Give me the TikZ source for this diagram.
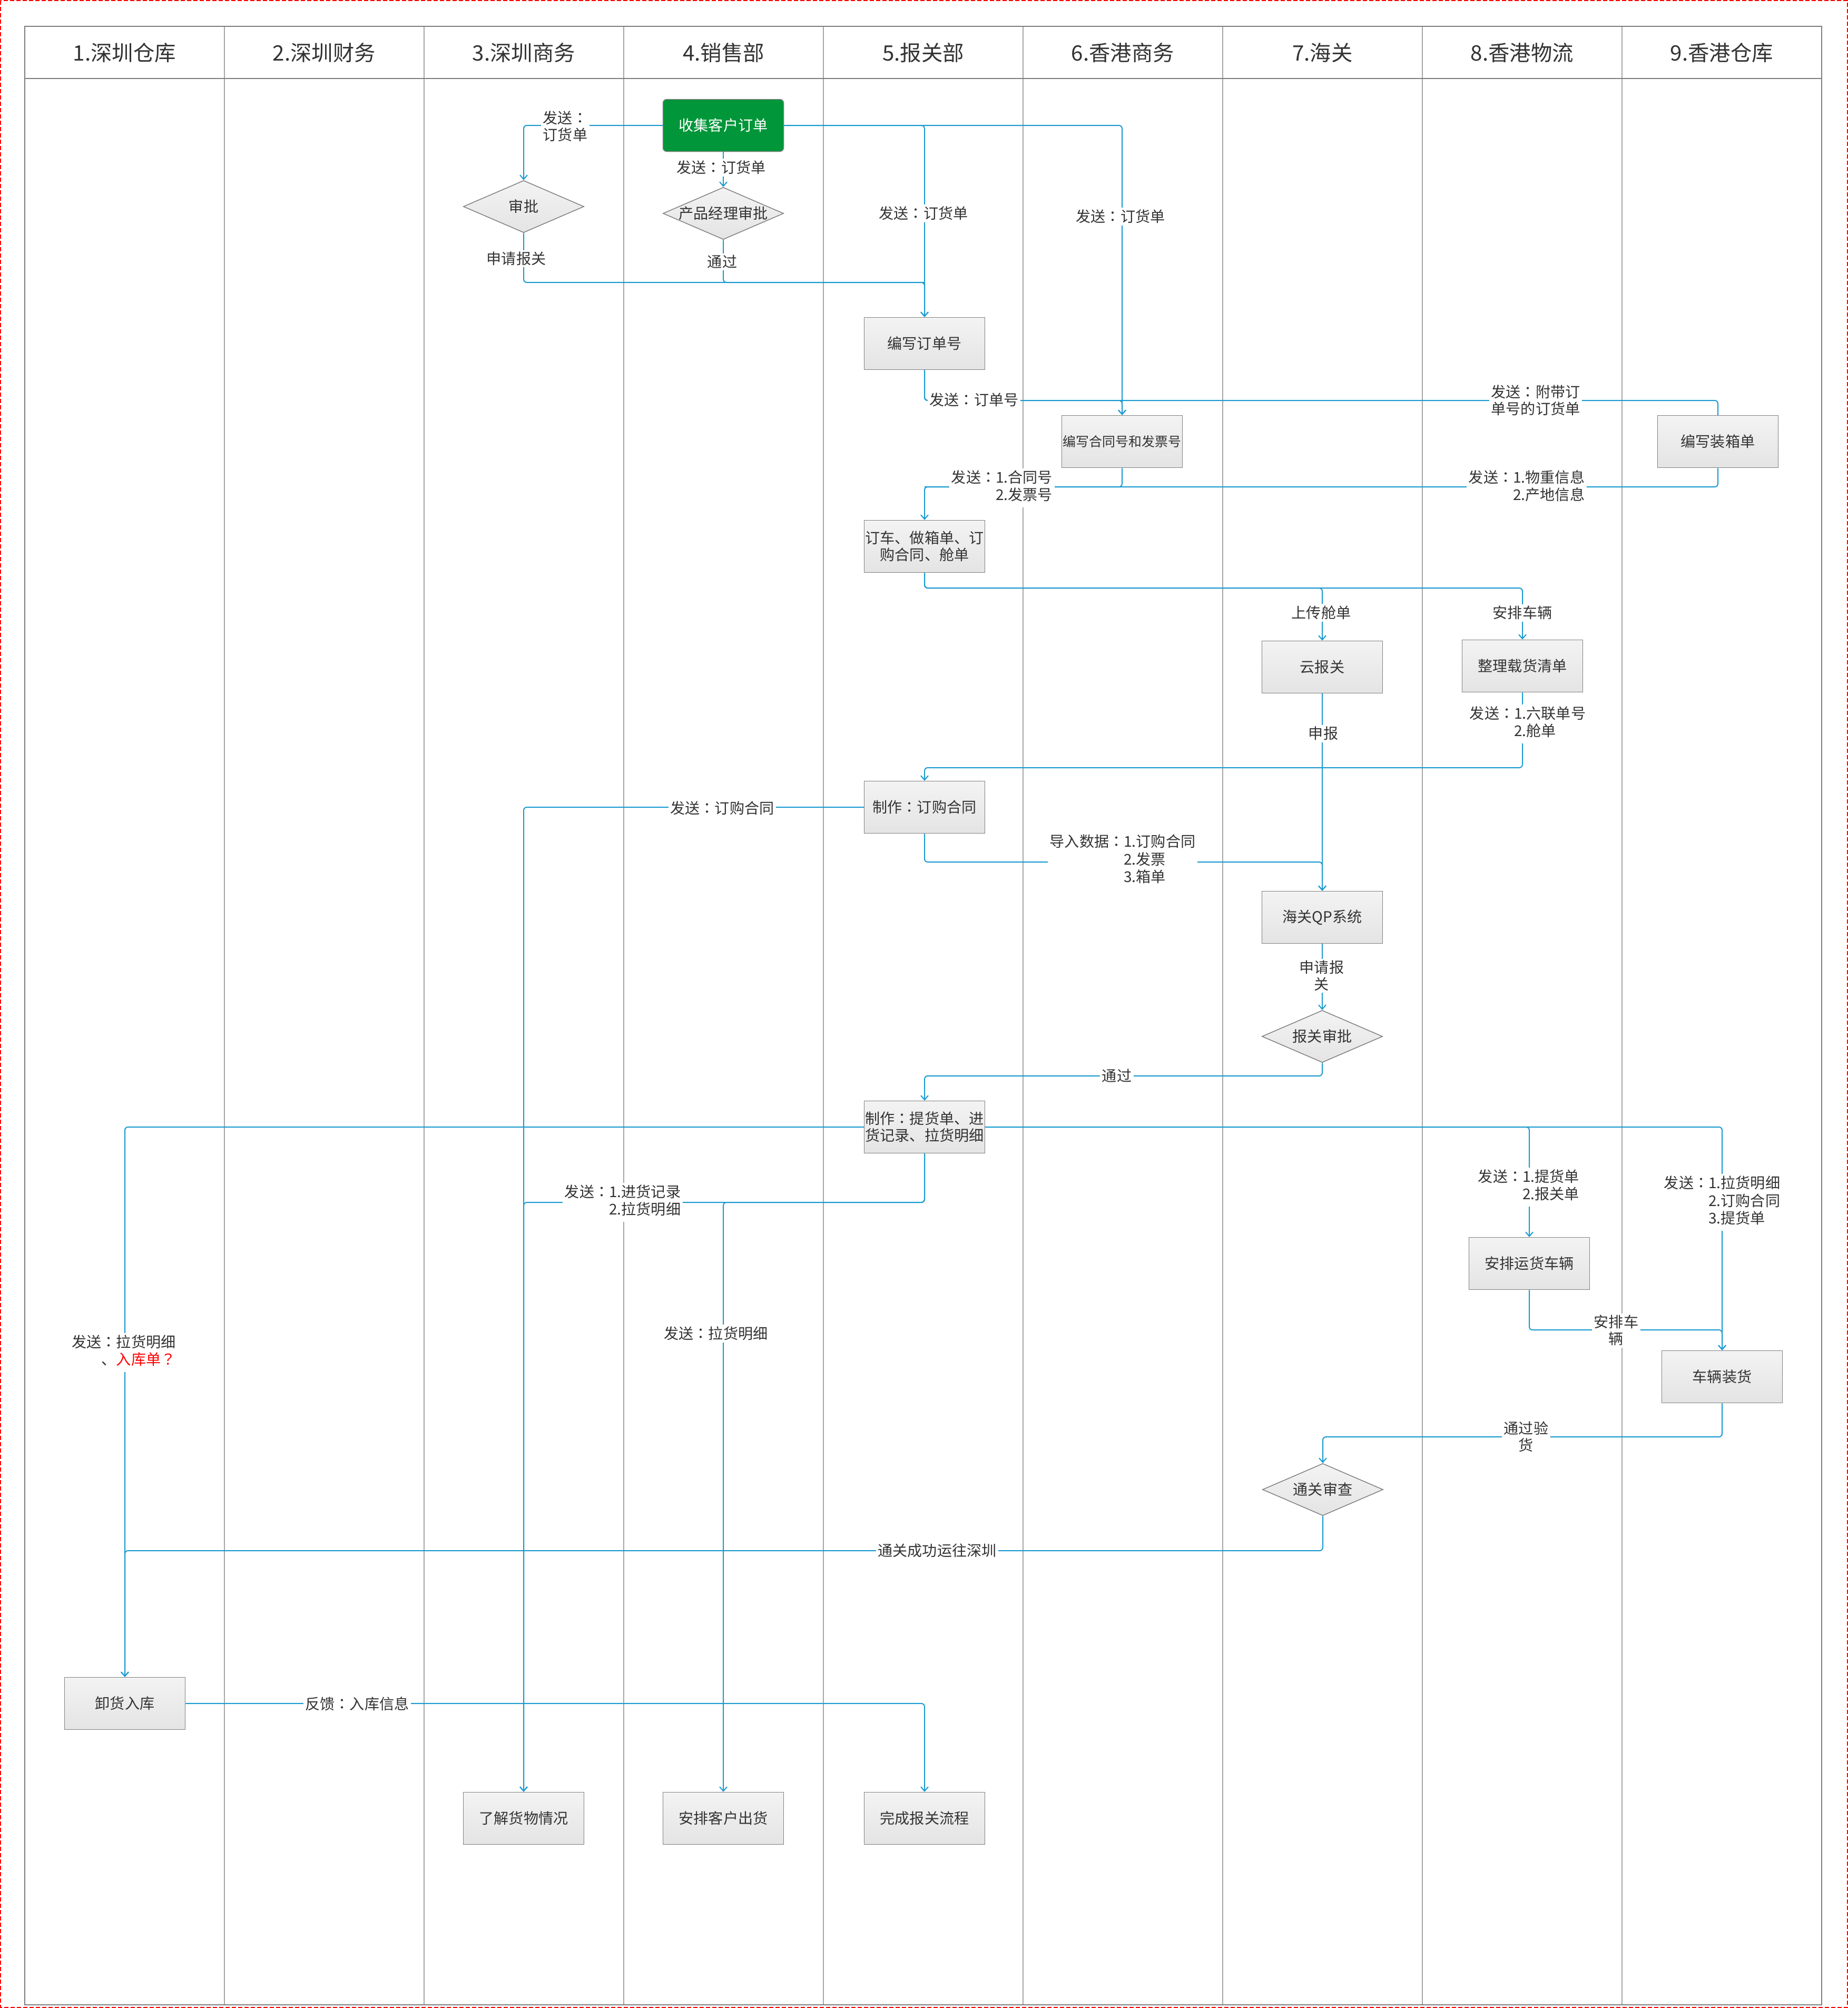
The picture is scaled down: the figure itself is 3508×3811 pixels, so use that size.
\documentclass[tikz,border=0pt]{standalone}
\usepackage{fontspec}
\setmainfont{Noto Sans CJK SC}
\newfontfamily\jpfont{Noto Sans CJK JP}
\usetikzlibrary{arrows.meta,shapes.geometric}

\definecolor{flowline}{RGB}{26,154,208}
\definecolor{laneline}{RGB}{165,165,165}
\definecolor{frameline}{RGB}{125,125,125}
\definecolor{boxtop}{RGB}{243,243,243}
\definecolor{boxbot}{RGB}{228,228,228}
\definecolor{boxdraw}{RGB}{128,128,128}
\definecolor{textgray}{RGB}{51,51,51}
\definecolor{startgreen}{RGB}{0,150,57}

\newcommand{\zerowd}[1]{\makebox[0pt]{#1}}
% centred full-width colon
\newcommand{\fc}{{\jpfont ：}}

\begin{document}
\begin{tikzpicture}[
  x=0.1mm, y=-0.1mm,
  >={Straight Barb[length=0.8mm,width=1.4mm]},
  font=\fontsize{8pt}{9.1pt}\selectfont,
  text=textgray,
  basebox/.style={draw=boxdraw,line width=0.15mm,minimum width=22.9mm,minimum height=9.9mm,inner sep=0pt,align=center},
  procbox/.style={basebox,top color=boxtop,bottom color=boxbot},
  startbox/.style={basebox,fill=startgreen,rounded corners=0.7mm,text=white},
  decision/.style={basebox,diamond,aspect=2.3,top color=boxtop,bottom color=boxbot},
  lanehead/.style={font=\fontsize{11.5pt}{13pt}\selectfont},
  lbl/.style={fill=white,inner sep=1pt,align=left},
  wire/.style={draw=flowline,line width=0.2mm,rounded corners=0.6mm},
  flow/.style={wire,->}
]
\useasboundingbox (0,0) rectangle (3508,3811);
\draw[red,line width=0.2mm,dash pattern=on 0.8mm off 0.4mm] (1,1) rectangle (3507,3810);

% swimlanes
\foreach \k in {1,...,8}
  \draw[laneline,line width=0.15mm] ({47+379*\k},50) -- ({47+379*\k},3805);
\draw[frameline,line width=0.25mm] (47,50) rectangle (3458,3805);
\draw[frameline,line width=0.25mm] (47,149) -- (3458,149);
\foreach \i/\name in {1/1.深圳仓库,2/2.深圳财务,3/3.深圳商务,4/4.销售部,5/5.报关部,
                      6/6.香港商务,7/7.海关,8/8.香港物流,9/9.香港仓库}
  \node[lanehead] (head\i) at ({47+379*(\i-0.5)},100) {\name};

% steps
\node[startbox] (sjdd) at (1373,238) {收集客户订单};
\node[decision] (spA) at (994,392) {\zerowd{审批}};
\node[decision] (cpsp) at (1373,405) {\zerowd{产品经理审批}};
\node[procbox] (bxddh) at (1755,652) {编写订单号};
\node[procbox,font=\fontsize{7.1pt}{8.5pt}\selectfont] (bxht) at (2130,838) {编写合同号和发票号};
\node[procbox] (bxzx) at (3261,838) {编写装箱单};
\node[procbox] (dc) at (1755,1037) {订车、做箱单、订\\购合同、舱单};
\node[procbox] (ybg) at (2510,1266) {云报关};
\node[procbox] (zlzh) at (2890,1264) {整理载货清单};
\node[procbox] (zzdg) at (1755,1532) {制作\fc 订购合同};
\node[procbox] (qp) at (2510,1741) {海关QP系统};
\node[decision] (bgsp) at (2510,1967) {\zerowd{报关审批}};
\node[procbox] (zzth) at (1755,2139) {制作\fc 提货单、进\\货记录、拉货明细};
\node[procbox] (apyh) at (2903,2398) {安排运货车辆};
\node[procbox] (clzh) at (3269,2613) {车辆装货};
\node[decision] (tgsc) at (2511,2827) {\zerowd{通关审查}};
\node[procbox] (xhrk) at (237,3233) {卸货入库};
\node[procbox] (ljhw) at (994,3451) {了解货物情况};
\node[procbox] (apch) at (1373,3451) {安排客户出货};
\node[procbox] (wcbg) at (1755,3451) {完成报关流程};

% bend points of shared runs
\coordinate (busA) at (1755,536);
\coordinate (busB) at (1755,760);
\coordinate (busC) at (1755,924);
\coordinate (busD) at (1755,1116);
\coordinate (busE) at (1755,1457);
\coordinate (busF) at (1755,1636);
\coordinate (busG) at (1755,2042);
\coordinate (busH) at (1755,2282);
\coordinate (busI) at (3269,2524);
\coordinate (busJ) at (2511,2727);
\coordinate (busK) at (237,2943);

% connectors
\draw[flow] (sjdd.west) -| (spA.north);
\draw[flow] (sjdd.south) -- (cpsp.north);
\draw[flow] (sjdd.east) -| (bxddh.north);
\draw[flow] (sjdd.east) -| (bxht.north);
\draw[flow] (spA.south) |- (busA) -- (bxddh.north);
\draw[wire] (cpsp.south) |- (busA);
\draw[flow] (bxddh.south) -- (busB) -| (bxht.north);
\draw[wire] (bxddh.south) -- (busB) -| (bxzx.north);
\draw[flow] (bxht.south) |- (busC) -- (dc.north);
\draw[wire] (bxzx.south) |- (busC);
\draw[flow] (dc.south) -- (busD) -| (ybg.north);
\draw[flow] (dc.south) -- (busD) -| (zlzh.north);
\draw[flow] (ybg.south) -- (qp.north);
\draw[flow] (zlzh.south) |- (busE) -- (zzdg.north);
\draw[flow] (zzdg.west) -| (ljhw.north);
\draw[flow] (zzdg.south) -- (busF) -| (qp.north);
\draw[flow] (qp.south) -- (bgsp.north);
\draw[flow] (bgsp.south) |- (busG) -- (zzth.north);
\draw[flow] (zzth.west) -| (xhrk.north);
\draw[flow] (zzth.east) -| (apyh.north);
\draw[flow] (zzth.east) -| (clzh.north);
\draw[flow] (zzth.south) -- (busH) -| (ljhw.north);
\draw[flow] (zzth.south) -- (busH) -| (apch.north);
\draw[flow] (apyh.south) |- (busI) -- (clzh.north);
\draw[flow] (clzh.south) |- (busJ) -- (tgsc.north);
\draw[flow] (tgsc.south) |- (busK) -- (xhrk.north);
\draw[flow] (xhrk.east) -| (wcbg.north);

% connector labels
\node[lbl] (l1) at (1073,240) {发送\fc\\订货单};
\node[lbl] (l2) at (1369,318) {发送\fc 订货单};
\node[lbl] (l3) at (1753,405) {发送\fc 订货单};
\node[lbl] (l4) at (2127,411) {发送\fc 订货单};
\node[lbl] (l5) at (980,491) {申请报关};
\node[lbl] (l6) at (1371,497) {通过};
\node[lbl] (l7) at (1849,759) {发送\fc 订单号};
\node[lbl] (l8) at (2915,760) {发送\fc 附带订\\单号的订货单};
\node[lbl] (l9) at (1902,926) {\begin{tabular}{@{}l@{}l@{}}发送\fc&1.合同号\\&2.发票号\end{tabular}};
\node[lbl] (l10) at (2898,926) {\begin{tabular}{@{}l@{}l@{}}发送\fc&1.物重信息\\&2.产地信息\end{tabular}};
\node[lbl] (l11) at (2508,1163) {上传舱单};
\node[lbl] (l12) at (2890,1163) {安排车辆};
\node[lbl] (l13) at (2512,1392) {申报};
\node[lbl] (l14) at (2900,1374) {\begin{tabular}{@{}l@{}l@{}}发送\fc&1.六联单号\\&2.舱单\end{tabular}};
\node[lbl] (l15) at (1371,1534) {发送\fc 订购合同};
\node[lbl] (l16) at (2131,1634) {\begin{tabular}{@{}l@{}l@{}}导入数据\fc&1.订购合同\\&2.发票\\&3.箱单\end{tabular}};
\node[lbl,align=center] (l17) at (2509,1852) {申请报\\关};
\node[lbl] (l18) at (2120,2042) {通过};
\node[lbl] (l19) at (235,2567) {\begin{tabular}{@{}r@{}}发送\fc 拉货明细\\、\textcolor{red}{入库单{\jpfont ？}}\end{tabular}};
\node[lbl] (l20) at (2902,2253) {\begin{tabular}{@{}l@{}l@{}}发送\fc&1.提货单\\&2.报关单\end{tabular}};
\node[lbl] (l21) at (3269,2282) {\begin{tabular}{@{}l@{}l@{}}发送\fc&1.拉货明细\\&2.订购合同\\&3.提货单\end{tabular}};
\node[lbl] (l22) at (1182,2282) {\begin{tabular}{@{}l@{}l@{}}发送\fc&1.进货记录\\&2.拉货明细\end{tabular}};
\node[lbl] (l23) at (1359,2531) {发送\fc 拉货明细};
\node[lbl,align=center] (l24) at (3068,2525) {安排车\\辆};
\node[lbl,align=center] (l25) at (2897,2727) {通过验\\货};
\node[lbl] (l26) at (1779,2943) {通关成功运往深圳};
\node[lbl] (l27) at (678,3234) {反馈\fc 入库信息};
\end{tikzpicture}
\end{document}
